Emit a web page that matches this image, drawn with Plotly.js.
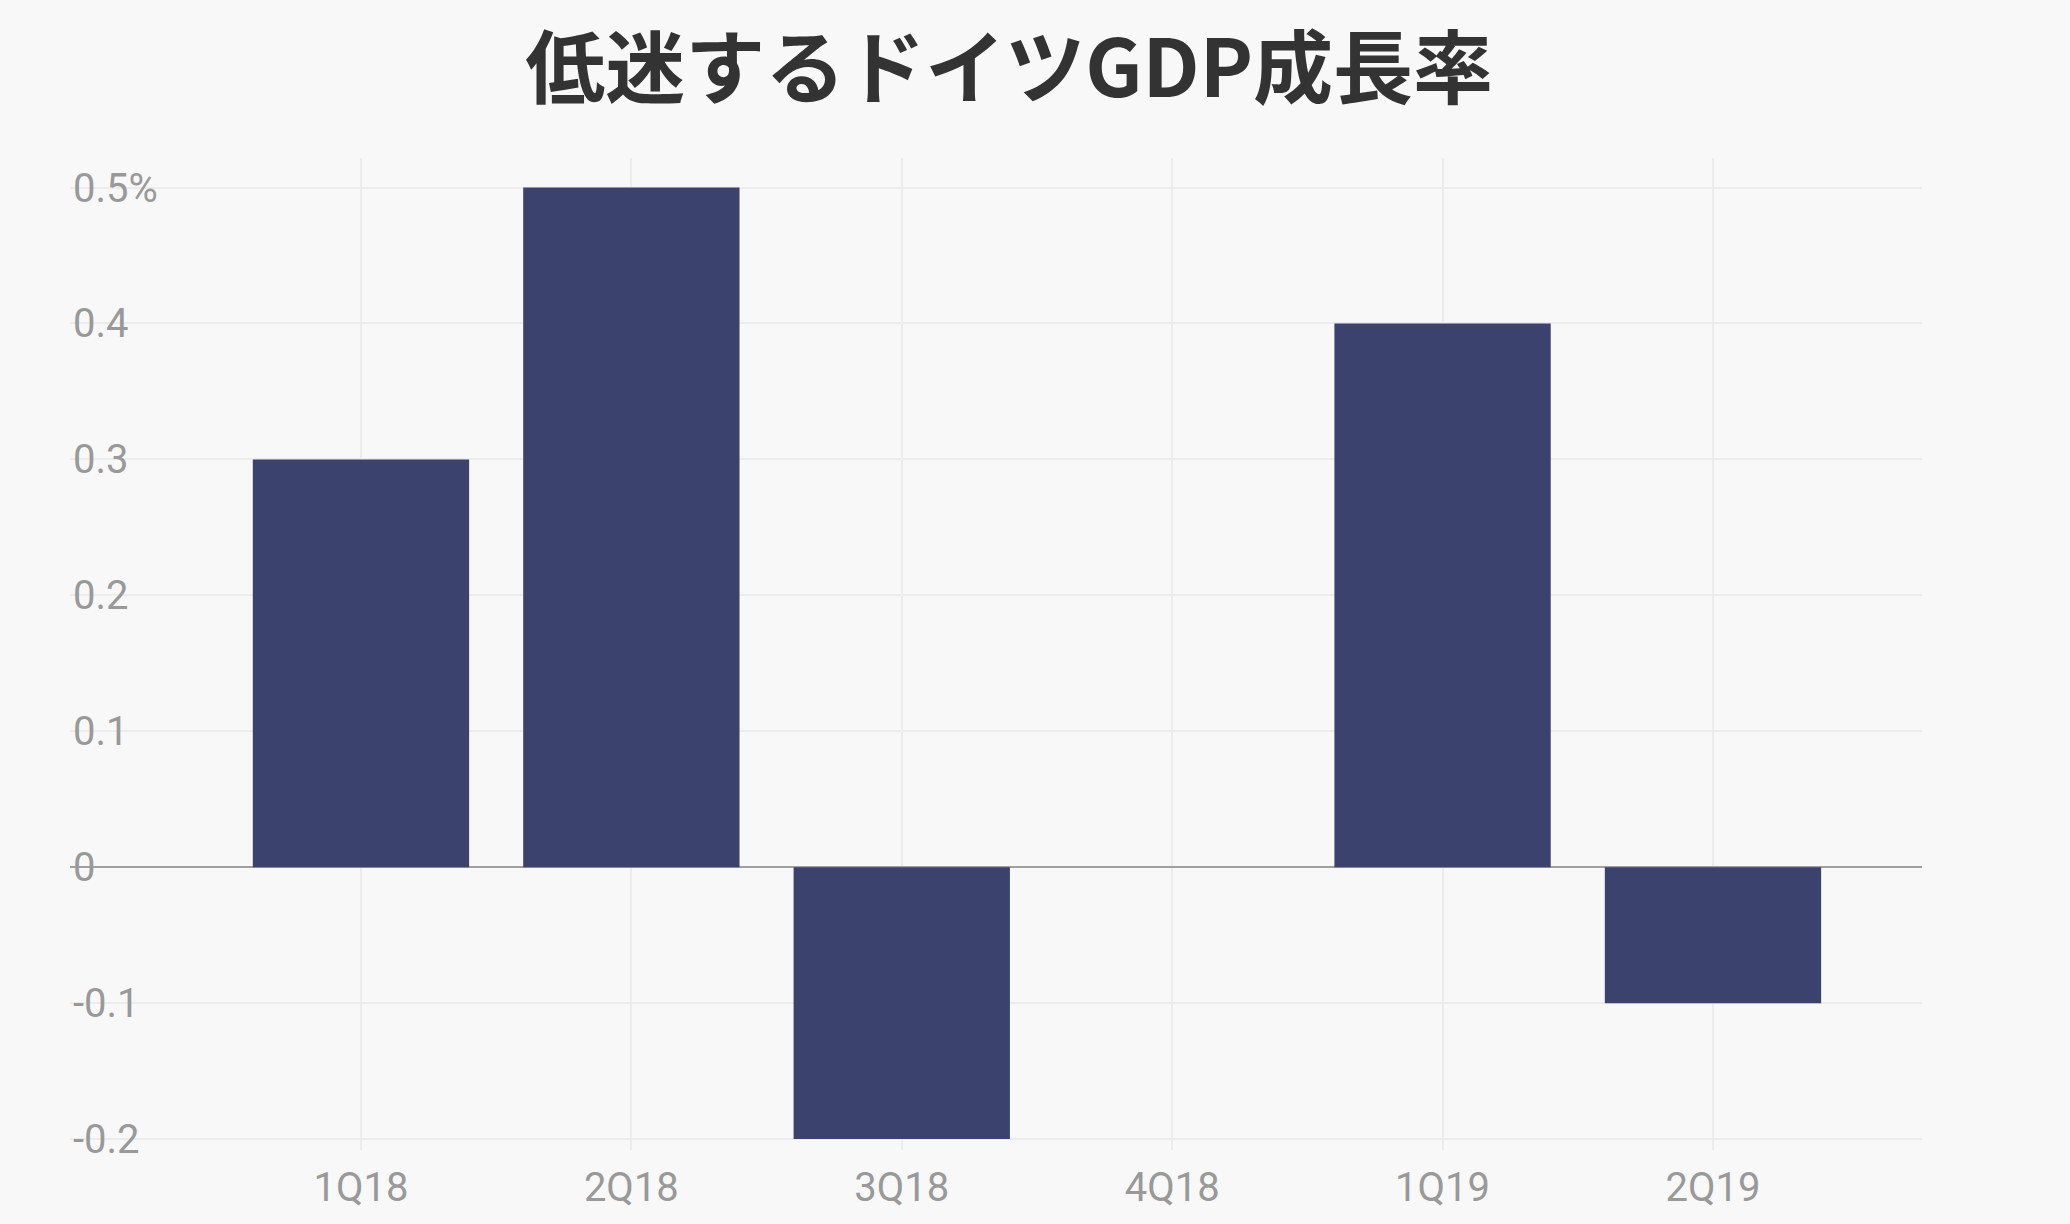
<!DOCTYPE html>
<html>
<head>
<meta charset="utf-8">
<script src="https://cdn.plot.ly/plotly-3.0.1.min.js"></script>
<style>
html,body{margin:0;padding:0;background:#f8f8f8;}
#chart{width:2070px;height:1224px;}
</style>
</head>
<body>
<div id="chart"></div>
<script>
const quarters = ["1Q18", "2Q18", "3Q18", "4Q18", "1Q19", "2Q19"];
const growth = [0.3, 0.5, -0.2, 0, 0.4, -0.1];
const yTickVals = [-0.2, -0.1, 0, 0.1, 0.2, 0.3, 0.4, 0.5];
const yTickText = ["-0.2", "-0.1", "0", "0.1", "0.2", "0.3", "0.4", "0.5%"];
const titleText = "低迷するドイツGDP成長率";

const trace = {
  type: "bar",
  x: quarters,
  y: growth,
  marker: {color: "#3b426e"},
  hoverinfo: "x+y"
};

const layout = {
  width: 2070,
  height: 1224,
  paper_bgcolor: "#f8f8f8",
  plot_bgcolor: "#f8f8f8",
  margin: {l: 70, r: 148, t: 158, b: 74, pad: 0},
  bargap: 0.2,
  showlegend: false,
  title: {
    text: titleText,
    font: {family: "Noto Sans CJK JP", size: 80, color: "#333333", weight: 700},
    x: 0.4875, xref: "container", xanchor: "center",
    y: 1 - 69/1224, yref: "container", yanchor: "middle"
  },
  xaxis: {
    type: "category",
    range: [-1.076, 5.773],
    showgrid: true,
    gridcolor: "#ececec",
    gridwidth: 2,
    showline: false,
    zeroline: false,
    ticks: "",
    ticklabelstandoff: 10,
    tickfont: {family: "Roboto", size: 40, color: "#999999"},
    fixedrange: true
  },
  yaxis: {
    range: [-0.208, 0.5217],
    tickvals: yTickVals,
    ticktext: yTickText,
    ticklabelposition: "inside",
    ticklabeloverflow: "allow",
    showgrid: true,
    gridcolor: "#ececec",
    gridwidth: 2,
    zeroline: true,
    zerolinecolor: "#a0a0a0",
    zerolinewidth: 2,
    showline: false,
    ticks: "",
    tickfont: {family: "Roboto", size: 40, color: "#999999"},
    fixedrange: true
  }
};

Plotly.newPlot("chart", [trace], layout, {displayModeBar: false, staticPlot: true});
</script>
</body>
</html>
